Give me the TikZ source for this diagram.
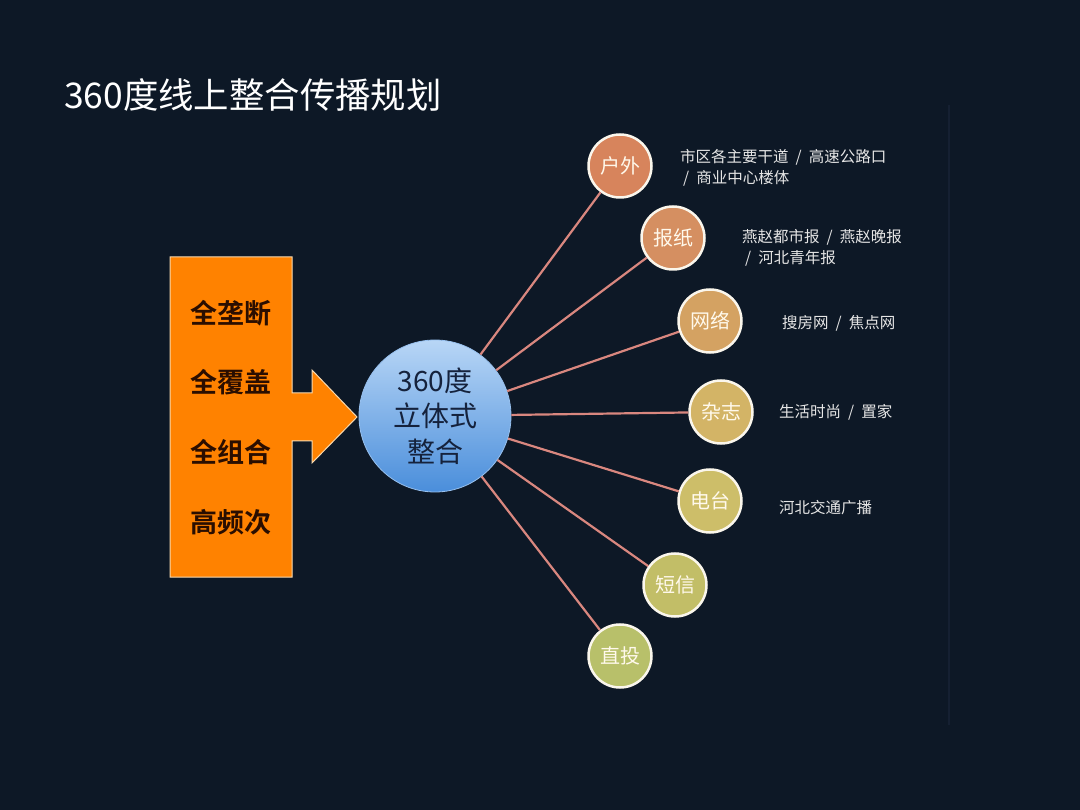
\documentclass[tikz,border=0pt]{standalone}
\usepackage{fontspec}
\newfontfamily\cjk{Noto Sans CJK SC}[BoldFont={Noto Sans CJK SC Bold}]
\definecolor{bg}{HTML}{0D1826}
\definecolor{orng}{HTML}{FF8200}
\definecolor{orngedge}{HTML}{F7D9B0}
\definecolor{boxtext}{HTML}{2A0E00}
\definecolor{hubtop}{HTML}{B8D6F6}
\definecolor{hubbot}{HTML}{4A8EDB}
\definecolor{hubtext}{HTML}{15223C}
\definecolor{linkc}{HTML}{D9877F}
\definecolor{satedge}{HTML}{FAF6EC}
\definecolor{sattext}{HTML}{FFF9EC}
\definecolor{desctext}{HTML}{E6E6E6}
\definecolor{faint}{HTML}{152032}
\definecolor{sA}{HTML}{D7845C}
\definecolor{sB}{HTML}{D58F61}
\definecolor{sC}{HTML}{D4A262}
\definecolor{sD}{HTML}{D3B466}
\definecolor{sE}{HTML}{CDBE69}
\definecolor{sF}{HTML}{C2BE67}
\definecolor{sG}{HTML}{B8C06A}
\newcommand\slsep{\hspace{7pt}/\hspace{7pt}}
\begin{document}
\begin{tikzpicture}[x=1pt,y=-1pt,
  sat/.style={circle, draw=satedge, line width=2.5pt, minimum size=63pt, inner sep=0pt,
    text=sattext, font=\cjk\fontsize{20}{20}\selectfont},
  desc/.style={anchor=west, text=desctext, font=\cjk\fontsize{15.5}{21}\selectfont,
    align=left, inner sep=0pt},
  link/.style={draw=linkc, line width=2.2pt},
  boxlbl/.style={text=boxtext, font=\cjk\bfseries\fontsize{27}{27}\selectfont, inner sep=0pt},
  ]
\fill[bg] (0,0) rectangle (1080,810);
\useasboundingbox (0,0) rectangle (1080,810);
\draw[faint, line width=1.5pt] (949,105) -- (949,725);

% title
\node[anchor=west, text=white, font=\cjk\fontsize{35.4}{36}\selectfont, inner sep=0pt]
  (title) at (64,95) {360度线上整合传播规划};

% orange box with arrow
\draw[fill=orng, draw=orngedge, line width=1pt]
  (170,257) -- (292,257) -- (292,393) -- (312,393) -- (312,370) -- (357,417)
  -- (312,463) -- (312,441) -- (292,441) -- (292,577) -- (170,577) -- cycle;
\node[boxlbl] (l1) at (231,313) {全垄断};
\node[boxlbl] (l2) at (231,382) {全覆盖};
\node[boxlbl] (l3) at (231,452) {全组合};
\node[boxlbl] (l4) at (231,522) {高频次};

% hub
\node[circle, minimum size=152pt, inner sep=0pt, top color=hubtop, bottom color=hubbot,
  draw=hubtop!70!hubbot, line width=0.8pt, text=hubtext, align=center,
  font=\cjk\fontsize{28}{35.5}\selectfont] (hub) at (435,416) {360度\\立体式\\整合};

% satellites
\node[sat, fill=sA] (s1) at (620,166) {户外};
\node[sat, fill=sB] (s2) at (673,238) {报纸};
\node[sat, fill=sC] (s3) at (710,321) {网络};
\node[sat, fill=sD] (s4) at (721,412) {杂志};
\node[sat, fill=sE] (s5) at (710,501) {电台};
\node[sat, fill=sF] (s6) at (675,585) {短信};
\node[sat, fill=sG] (s7) at (620,656) {直投};

\foreach \s in {s1,s2,s3,s4,s5,s6,s7} {
  \draw[link] (hub) -- (\s);
}

% descriptions
\node[desc] (d1) at (680,167.5) {市区各主要干道\slsep 高速公路口\\\hspace{3pt}/\hspace{7pt}商业中心楼体};
\node[desc] (d2) at (742,248) {燕赵都市报\slsep 燕赵晚报\\\hspace{3pt}/\hspace{7pt}河北青年报};
\node[desc] (d3) at (782,323) {搜房网\slsep 焦点网};
\node[desc] (d4) at (779,412) {生活时尚\slsep 置家};
\node[desc] (d5) at (779,508) {河北交通广播};
\end{tikzpicture}
\end{document}
